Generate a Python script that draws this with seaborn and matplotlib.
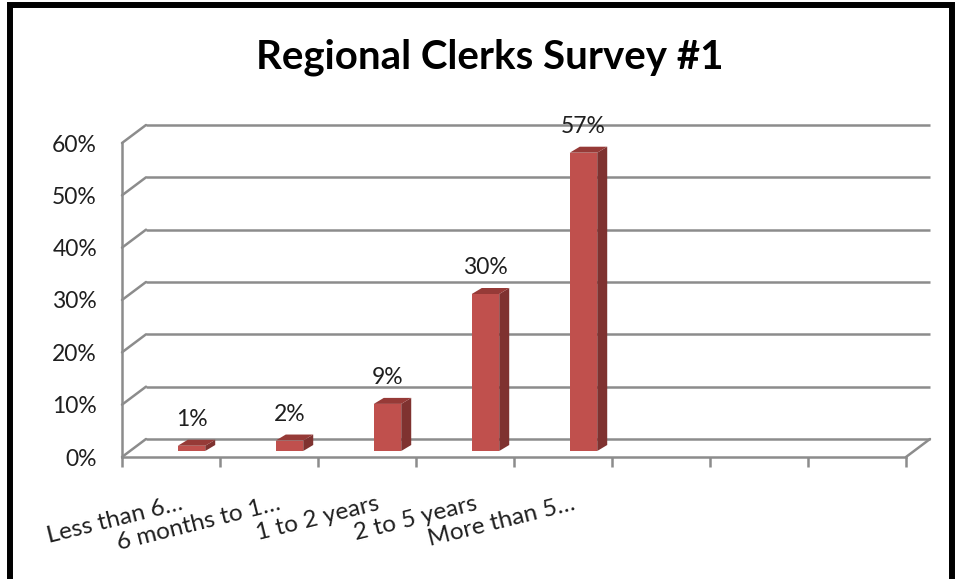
import numpy as np
import matplotlib
matplotlib.use("Agg")
import matplotlib.pyplot as plt
import seaborn as sns
from matplotlib.patches import Polygon, Rectangle
from matplotlib.ticker import PercentFormatter
from matplotlib.transforms import ScaledTranslation

# Survey answers (share of respondents)
categories = ["Less than 6…", "6 months to 1…", "1 to 2 years", "2 to 5 years", "More than 5…"]
values = [0.01, 0.02, 0.09, 0.30, 0.57]
value_labels = ["1%", "2%", "9%", "30%", "57%"]
y_ticks = [0.0, 0.1, 0.2, 0.3, 0.4, 0.5, 0.6]
n_slots = 8

FRONT_COLOR = "#C0504D"
SIDE_COLOR = "#7F3230"
TOP_COLOR = "#963A37"
GRID_COLOR = "#8C8C8C"
TEXT_COLOR = "#1F1F1F"

sns.set_theme(style="white")
plt.rcParams["font.family"] = ["Lato", "DejaVu Sans"]

W, H, DPI = 960, 579, 100
fig = plt.figure(figsize=(W / DPI, H / DPI), dpi=DPI)
fig.patch.set_facecolor("white")

# front plane of the 3D box, in pixels
left_px, right_px, base_px, top_px = 122, 906, 457, 143
ax = fig.add_axes([left_px / W, (H - base_px) / H, (right_px - left_px) / W, (base_px - top_px) / H])
ax.set_facecolor("none")

sns.barplot(x=categories, y=values, order=categories, color=FRONT_COLOR, width=0.28,
            saturation=1, linewidth=0, ax=ax, zorder=3)
ax.set_xlim(-0.5, n_slots - 0.5)
ax.set_ylim(0, y_ticks[-1])

# pixel -> data conversion
ppx = (right_px - left_px) / n_slots
ppy = (base_px - top_px) / y_ticks[-1]

def px(dx, dy):
    return dx / ppx, dy / ppy

back_dx, back_dy = px(24, 18)    # back wall offset
bar_dx, bar_dy = px(20.5, 6)     # bars sit inside the box
dep_dx, dep_dy = px(10, 6)       # bar depth

# back wall gridlines + left diagonals
x0, x1 = -0.5, n_slots - 0.5
for t in y_ticks:
    ax.plot([x0 + back_dx, x1 + back_dx], [t + back_dy, t + back_dy], color=GRID_COLOR,
            lw=1.8, clip_on=False, zorder=1, solid_capstyle="butt")
    ax.plot([x0, x0 + back_dx], [t, t + back_dy], color=GRID_COLOR, lw=1.8,
            clip_on=False, zorder=1)
ax.plot([x1, x1 + back_dx], [0, back_dy], color=GRID_COLOR, lw=1.8, clip_on=False, zorder=1)

# 3D bars
for p, lab in zip(ax.patches, value_labels):
    p.set_x(p.get_x() + bar_dx)
    p.set_y(bar_dy)
    p.set_clip_on(False)
    bx0 = p.get_x()
    bx1 = bx0 + p.get_width()
    yb = p.get_y()
    yt = yb + p.get_height()
    side = Polygon([(bx1, yb), (bx1 + dep_dx, yb + dep_dy), (bx1 + dep_dx, yt + dep_dy), (bx1, yt)],
                   closed=True, facecolor=SIDE_COLOR, edgecolor="none", zorder=3, clip_on=False)
    top = Polygon([(bx0, yt), (bx0 + dep_dx, yt + dep_dy), (bx1 + dep_dx, yt + dep_dy), (bx1, yt)],
                  closed=True, facecolor=TOP_COLOR, edgecolor="none", zorder=3, clip_on=False)
    ax.add_patch(side)
    ax.add_patch(top)
    ax.annotate(lab, xy=((bx0 + bx1) / 2, yt + dep_dy), xytext=(0, 7), textcoords="offset points",
                ha="center", va="bottom", fontsize=16.5, color=TEXT_COLOR, annotation_clip=False)

# spines of the front plane
for s in ["top", "right"]:
    ax.spines[s].set_visible(False)
for s in ["left", "bottom"]:
    ax.spines[s].set_color(GRID_COLOR)
    ax.spines[s].set_linewidth(1.8)
    ax.spines[s].set_zorder(2)

ax.set_yticks(y_ticks)
ax.yaxis.set_major_formatter(PercentFormatter(1, decimals=0))
ax.tick_params(axis="y", length=0, pad=18, labelsize=16.5, labelcolor=TEXT_COLOR)

ax.set_xticks(range(len(categories)))
ax.set_xticklabels(categories)
ax.set_xticks(np.arange(-0.5, n_slots, 1), minor=True)
ax.tick_params(axis="x", which="major", length=0, pad=26, labelsize=17.5, labelcolor=TEXT_COLOR)
ax.tick_params(axis="x", which="minor", bottom=True, length=7, width=1.8, color=GRID_COLOR,
               direction="out")
shift = ScaledTranslation(9 / DPI, 0, fig.dpi_scale_trans)
for lbl in ax.get_xticklabels():
    lbl.set_rotation(14)
    lbl.set_ha("right")
    lbl.set_rotation_mode("anchor")
    lbl.set_transform(lbl.get_transform() + shift)
ax.set_xlabel("")
ax.set_ylabel("")

fig.text(489.5 / W, 1 - 69 / H, "Regional Clerks Survey #1", ha="center", va="baseline",
         fontsize=29, fontweight="bold", color="black")

# black frame around the chart
fig.patches.append(Rectangle((10 / W, -0.05), (952 - 10) / W, 1.05 - 4.5 / H, transform=fig.transFigure,
                             fill=False, edgecolor="black", linewidth=4.3, zorder=10))

fig.savefig("out.png", dpi=DPI)
